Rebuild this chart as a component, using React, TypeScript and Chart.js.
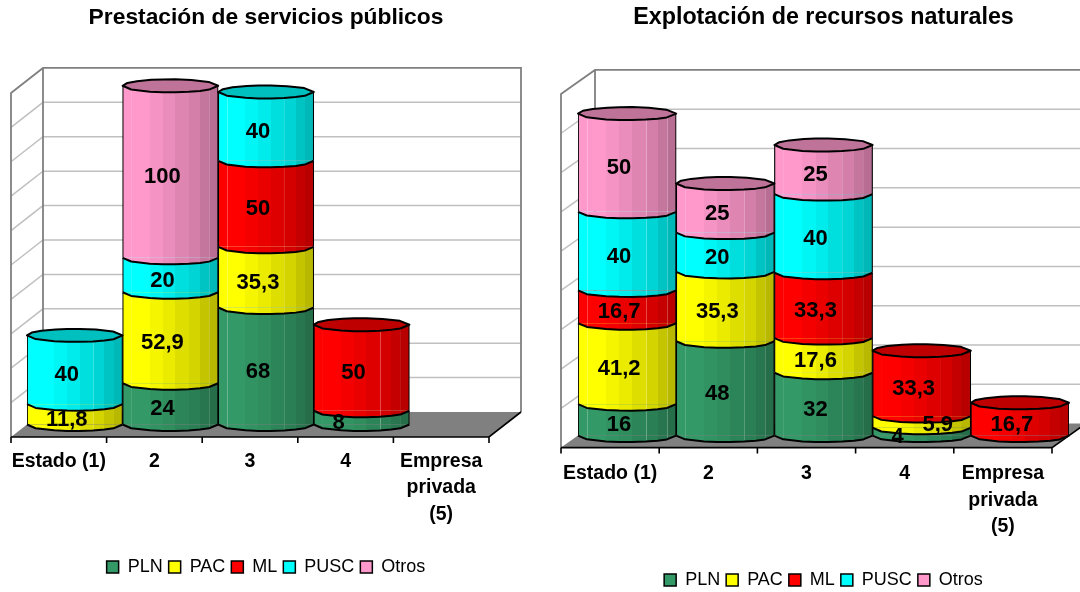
import React, { useEffect, useRef } from "react";
import { Chart, registerables } from "chart.js";

Chart.register(...registerables);

const FONT = "'Liberation Sans', Arial, sans-serif";

const categories = [["Estado (1)"], ["2"], ["3"], ["4"], ["Empresa", "privada", "(5)"]];
const seriesNames = ["PLN", "PAC", "ML", "PUSC", "Otros"];
const seriesColors = [
  [51, 153, 102],
  [255, 255, 0],
  [255, 0, 0],
  [0, 255, 255],
  [255, 153, 204],
];

const leftPLN = [null, 24, 68, 8, null];
const leftPAC = [11.8, 52.9, 35.3, null, null];
const leftML = [null, null, 50, 50, null];
const leftPUSC = [40, 20, 40, null, null];
const leftOtros = [null, 100, null, null, null];

const rightPLN = [16, 48, 32, 4, null];
const rightPAC = [41.2, 35.3, 17.6, 5.9, null];
const rightML = [16.7, null, 33.3, 33.3, 16.7];
const rightPUSC = [40, 20, 40, null, null];
const rightOtros = [50, 25, 25, null, null];

const FRONT = [0, 0.09, 0.285, 0.42, 0.55, 0.69, 0.81, 0.905, 1];
const BACK = [1, 0.9, 0.72, 0.55, 0.42, 0.3, 0.15, 0.05, 0];
const SHADE = [1, 1, 0.96, 0.92, 0.87, 0.83, 0.77, 0.72, 0.66];
const PALE = [0.09, 0.69, 0.905];

function rgb(c: number[], k: number) {
  return `rgb(${Math.round(c[0] * k)},${Math.round(c[1] * k)},${Math.round(c[2] * k)})`;
}
function paleRgb(c: number[], k: number) {
  const m = (v: number) => Math.round(v * k * 0.7 + 255 * 0.3);
  return `rgb(${m(c[0])},${m(c[1])},${m(c[2])})`;
}
function sideGradient(ctx: CanvasRenderingContext2D, x0: number, x1: number, c: number[]) {
  const g = ctx.createLinearGradient(x0, 0, x1, 0);
  for (let i = 0; i < FRONT.length - 1; i++) {
    const a = FRONT[i];
    const b = FRONT[i + 1];
    g.addColorStop(a, rgb(c, SHADE[i]));
    g.addColorStop(b, rgb(c, SHADE[i]));
    if (PALE.includes(b)) {
      g.addColorStop(b, paleRgb(c, SHADE[i]));
      g.addColorStop(Math.min(1, b + 0.008), paleRgb(c, SHADE[i]));
      g.addColorStop(Math.min(1, b + 0.008), rgb(c, SHADE[i + 1]));
    }
  }
  return g;
}
function ellY(f: number, ry: number) {
  const t = 2 * f - 1;
  return ry * Math.sqrt(Math.max(0, 1 - t * t));
}

const shifted: Record<string, number[]> = {
  "8": [-23, 5.5],
  "4": [-24, 5.5],
  "5,9": [16, 3],
};

const cylinderPlugin = {
  id: "cylinder3d",
  beforeDatasetsDraw(chart: any) {
    const { ctx, chartArea: a, scales } = chart;
    const { dx, dy } = chart.options.plugins.cylinder3d;
    const y = scales.y;
    const bx0 = a.left + dx, bx1 = a.right + dx, fx0 = a.left - dx, fx1 = a.right - dx;
    const by = a.bottom - dy, fy = a.bottom + dy;
    ctx.save();
    ctx.lineWidth = 1.5;
    ctx.strokeStyle = "#C0C0C0";
    y.ticks.forEach((t: any) => {
      if (t.value === 0 || t.value === y.max) return;
      const py = y.getPixelForValue(t.value);
      ctx.beginPath();
      ctx.moveTo(fx0, py + dy);
      ctx.lineTo(bx0, py - dy);
      ctx.lineTo(bx1, py - dy);
      ctx.stroke();
    });
    const top = y.getPixelForValue(y.max);
    ctx.strokeStyle = "#808080";
    ctx.lineWidth = 1.8;
    ctx.beginPath();
    ctx.moveTo(fx0, fy);
    ctx.lineTo(fx0, top + dy);
    ctx.lineTo(bx0, top - dy);
    ctx.lineTo(bx1, top - dy);
    ctx.lineTo(bx1, by);
    ctx.moveTo(bx0, top - dy);
    ctx.lineTo(bx0, by);
    ctx.stroke();
    ctx.fillStyle = "#808080";
    ctx.beginPath();
    ctx.moveTo(fx0, fy);
    ctx.lineTo(bx0, by);
    ctx.lineTo(bx1, by);
    ctx.lineTo(fx1, fy);
    ctx.closePath();
    ctx.fill();
    ctx.strokeStyle = "#000";
    ctx.lineWidth = 1.6;
    ctx.beginPath();
    ctx.moveTo(fx0, fy);
    ctx.lineTo(fx1, fy);
    ctx.lineTo(bx1, by);
    const n = categories.length;
    for (let i = 0; i <= n; i++) {
      const tx = fx0 + (i * (fx1 - fx0)) / n;
      ctx.moveTo(tx, fy);
      ctx.lineTo(tx, fy + 6);
    }
    ctx.stroke();
    ctx.restore();
  },
  afterDatasetsDraw(chart: any) {
    const { ctx, data } = chart;
    const { ry } = chart.options.plugins.cylinder3d;
    const n = categories.length;
    ctx.save();
    ctx.lineJoin = "round";
    for (let col = 0; col < n; col++) {
      let topEl: any = null;
      let topColor: number[] = [0, 0, 0];
      data.datasets.forEach((ds: any, di: number) => {
        if (ds.data[col] == null) return;
        const el = chart.getDatasetMeta(di).data[col];
        const c = seriesColors[di];
        const x0 = el.x - el.width / 2;
        const w = el.width;
        ctx.beginPath();
        ctx.moveTo(x0, el.base);
        FRONT.forEach((f) => ctx.lineTo(x0 + f * w, el.base + ellY(f, ry)));
        ctx.fillStyle = sideGradient(ctx, x0, x0 + w, c);
        ctx.fill();
        ctx.beginPath();
        FRONT.forEach((f) => ctx.lineTo(x0 + f * w, el.base + ellY(f, ry)));
        ctx.strokeStyle = "#000";
        ctx.lineWidth = 2;
        ctx.stroke();
        topEl = el;
        topColor = c;
      });
      if (topEl) {
        const x0 = topEl.x - topEl.width / 2;
        const w = topEl.width;
        ctx.beginPath();
        FRONT.forEach((f) => ctx.lineTo(x0 + f * w, topEl.y + ellY(f, ry)));
        BACK.forEach((f) => ctx.lineTo(x0 + f * w, topEl.y - ellY(f, ry)));
        ctx.closePath();
        ctx.fillStyle = rgb(topColor, 0.75);
        ctx.fill();
        ctx.strokeStyle = "#000";
        ctx.lineWidth = 2;
        ctx.stroke();
      }
    }
    ctx.fillStyle = "#000";
    ctx.font = `bold 22px ${FONT}`;
    ctx.textAlign = "center";
    ctx.textBaseline = "middle";
    data.datasets.forEach((ds: any, di: number) => {
      ds.data.forEach((v: number | null, col: number) => {
        if (v == null) return;
        const el = chart.getDatasetMeta(di).data[col];
        const txt = String(v).replace(".", ",");
        const [ox, oy] = shifted[txt] || [-8, 5.5];
        ctx.fillText(txt, el.x + ox, (el.y + el.base) / 2 + oy);
      });
    });
    ctx.restore();
  },
};

type Spec = {
  title: string;
  titleSize: number;
  series: (number | null)[][];
  max: number;
  dx: number;
  dy: number;
  ry: number;
  pad: { left: number; right: number; bottom: number };
  titleTop: number;
  titleBottom: number;
  tickPad: number;
  axisHeight: number;
};

function Panel({ spec, left }: { spec: Spec; left: number }) {
  const ref = useRef<HTMLCanvasElement>(null);
  useEffect(() => {
    const canvas = ref.current!;
    const chart = new Chart(canvas, {
      type: "bar",
      data: {
        labels: categories as any,
        datasets: seriesNames.map((name, i) => ({
          label: name,
          data: spec.series[i],
          stack: "s",
          backgroundColor: (ctx: any) => {
            const c = ctx.chart;
            const x = c.scales.x;
            if (!x || !c.chartArea) return rgb(seriesColors[i], 1);
            const w = x.width / categories.length;
            const cx = x.getPixelForValue(ctx.dataIndex ?? 0);
            return sideGradient(c.ctx, cx - w / 2, cx + w / 2, seriesColors[i]);
          },
          borderColor: "#000",
          borderWidth: { left: 1.2, right: 1.2, top: 0, bottom: 0 },
          borderSkipped: false,
          categoryPercentage: 1,
          barPercentage: 1,
        })) as any,
      },
      options: {
        animation: false,
        responsive: false,
        devicePixelRatio: 1,
        layout: { padding: spec.pad },
        scales: {
          x: {
            stacked: true,
            grid: { display: false },
            border: { display: false },
            afterFit: (s: any) => {
              s.height = spec.axisHeight;
            },
            ticks: {
              color: "#000",
              font: { family: FONT, size: 19.5, weight: "bold", lineHeight: 1.36 },
              padding: spec.tickPad,
              labelOffset: -spec.dx,
              maxRotation: 0,
              minRotation: 0,
              autoSkip: false,
            },
          },
          y: {
            display: false,
            stacked: true,
            min: 0,
            max: spec.max,
            ticks: { stepSize: 20 },
          },
        },
        plugins: {
          tooltip: { enabled: false },
          title: {
            display: true,
            text: spec.title,
            color: "#000",
            font: { family: FONT, size: spec.titleSize, weight: "bold", lineHeight: 1.2 },
            padding: { top: spec.titleTop, bottom: spec.titleBottom },
          },
          legend: {
            position: "bottom",
            labels: {
              color: "#000",
              font: { family: FONT, size: 18 },
              boxWidth: 12,
              boxHeight: 12,
              padding: 6,
              generateLabels: () =>
                seriesNames.map((n, i) => ({
                  text: n,
                  fillStyle: rgb(seriesColors[i], 1),
                  strokeStyle: "#000",
                  lineWidth: 1.5,
                  datasetIndex: i,
                })),
            },
          },
          cylinder3d: { dx: spec.dx, dy: spec.dy, ry: spec.ry },
        } as any,
      },
      plugins: [cylinderPlugin],
    } as any);
    return () => chart.destroy();
  }, []);
  return (
    <canvas
      ref={ref}
      width={540}
      height={592}
      style={{ position: "absolute", left, top: 0, width: 540, height: 592 }}
    />
  );
}

const leftSpec: Spec = {
  title: "Prestación de servicios públicos",
  titleSize: 22.8,
  series: [leftPLN, leftPAC, leftML, leftPUSC, leftOtros],
  max: 200,
  dx: 16,
  dy: 12.5,
  ry: 6.5,
  pad: { left: 27, right: 35, bottom: 6 },
  titleTop: 4.3,
  titleBottom: 48.8,
  tickPad: 15.5,
  axisHeight: 127.5,
};

const rightSpec: Spec = {
  title: "Explotación de recursos naturales",
  titleSize: 23.3,
  series: [rightPLN, rightPAC, rightML, rightPUSC, rightOtros],
  max: 180,
  dx: 17,
  dy: 12,
  ry: 6.5,
  pad: { left: 38, right: 11, bottom: -7 },
  titleTop: 4,
  titleBottom: 50,
  tickPad: 17,
  axisHeight: 129.4,
};

export default function App() {
  return (
    <div style={{ position: "absolute", left: 0, top: 0, width: 1080, height: 592, overflow: "hidden", background: "#fff" }}>
      <Panel spec={leftSpec} left={0} />
      <Panel spec={rightSpec} left={540} />
    </div>
  );
}
